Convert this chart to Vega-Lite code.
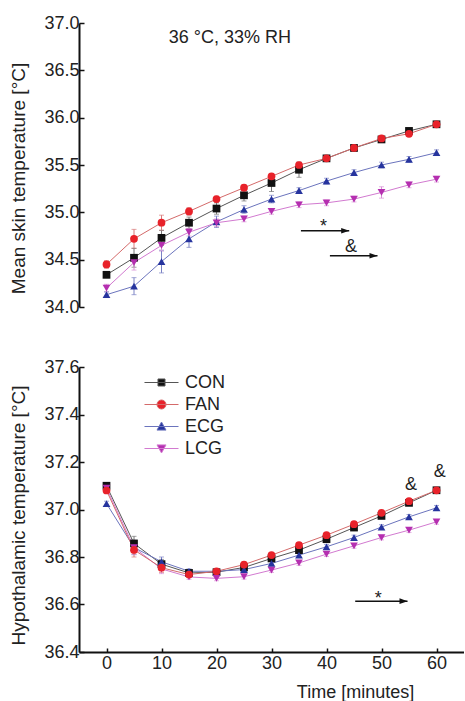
{
  "$schema": "https://vega.github.io/schema/vega-lite/v6.json",
  "padding": {"left": 9, "top": 14, "right": 0, "bottom": 0},
  "background": "white",
  "config": {
    "font": "Liberation Sans",
    "view": {"stroke": null},
    "axis": {
      "domainColor": "#111", "domainWidth": 2, "tickColor": "#111", "tickWidth": 1.5,
      "labelFontSize": 18, "labelColor": "#222", "titleFontSize": 19, "titleFontWeight": "normal",
      "titleColor": "#222", "grid": false, "labelOverlap": false, "labelFlush": false
    }
  },
  "bounds": "flush",
  "spacing": 60,
  "datasets": {
    "skin": [
      {"g":"CON","t":0,"v":34.34,"e":0.03},{"g":"CON","t":5,"v":34.52,"e":0.10},{"g":"CON","t":10,"v":34.73,"e":0.08},{"g":"CON","t":15,"v":34.89,"e":0.06},{"g":"CON","t":20,"v":35.04,"e":0.06},{"g":"CON","t":25,"v":35.18,"e":0.06},{"g":"CON","t":30,"v":35.31,"e":0.09},{"g":"CON","t":35,"v":35.45,"e":0.08},{"g":"CON","t":40,"v":35.57,"e":0.03},{"g":"CON","t":45,"v":35.68,"e":0.02},{"g":"CON","t":50,"v":35.77,"e":0.02},{"g":"CON","t":55,"v":35.86,"e":0.02},{"g":"CON","t":60,"v":35.93,"e":0.02},
      {"g":"ECG","t":0,"v":34.13,"e":0.03},{"g":"ECG","t":5,"v":34.22,"e":0.09},{"g":"ECG","t":10,"v":34.48,"e":0.12},{"g":"ECG","t":15,"v":34.72,"e":0.09},{"g":"ECG","t":20,"v":34.90,"e":0.06},{"g":"ECG","t":25,"v":35.03,"e":0.04},{"g":"ECG","t":30,"v":35.14,"e":0.04},{"g":"ECG","t":35,"v":35.23,"e":0.03},{"g":"ECG","t":40,"v":35.33,"e":0.03},{"g":"ECG","t":45,"v":35.42,"e":0.03},{"g":"ECG","t":50,"v":35.50,"e":0.03},{"g":"ECG","t":55,"v":35.56,"e":0.03},{"g":"ECG","t":60,"v":35.63,"e":0.03},
      {"g":"LCG","t":0,"v":34.20,"e":0.04},{"g":"LCG","t":5,"v":34.47,"e":0.08},{"g":"LCG","t":10,"v":34.65,"e":0.06},{"g":"LCG","t":15,"v":34.79,"e":0.04},{"g":"LCG","t":20,"v":34.89,"e":0.04},{"g":"LCG","t":25,"v":34.93,"e":0.03},{"g":"LCG","t":30,"v":35.01,"e":0.03},{"g":"LCG","t":35,"v":35.08,"e":0.03},{"g":"LCG","t":40,"v":35.10,"e":0.03},{"g":"LCG","t":45,"v":35.14,"e":0.03},{"g":"LCG","t":50,"v":35.21,"e":0.06},{"g":"LCG","t":55,"v":35.29,"e":0.03},{"g":"LCG","t":60,"v":35.35,"e":0.03},
      {"g":"FAN","t":0,"v":34.45,"e":0.04},{"g":"FAN","t":5,"v":34.72,"e":0.10},{"g":"FAN","t":10,"v":34.89,"e":0.08},{"g":"FAN","t":15,"v":35.01,"e":0.04},{"g":"FAN","t":20,"v":35.14,"e":0.03},{"g":"FAN","t":25,"v":35.26,"e":0.03},{"g":"FAN","t":30,"v":35.38,"e":0.03},{"g":"FAN","t":35,"v":35.50,"e":0.03},{"g":"FAN","t":40,"v":35.57,"e":0.02},{"g":"FAN","t":45,"v":35.68,"e":0.02},{"g":"FAN","t":50,"v":35.78,"e":0.02},{"g":"FAN","t":55,"v":35.83,"e":0.02},{"g":"FAN","t":60,"v":35.93,"e":0.02}
    ],
    "hypo": [
      {"g":"CON","t":0,"v":37.10,"e":0.01},{"g":"CON","t":5,"v":36.857,"e":0.03},{"g":"CON","t":10,"v":36.77,"e":0.02},{"g":"CON","t":15,"v":36.733,"e":0.01},{"g":"CON","t":20,"v":36.736,"e":0.01},{"g":"CON","t":25,"v":36.756,"e":0.01},{"g":"CON","t":30,"v":36.794,"e":0.01},{"g":"CON","t":35,"v":36.829,"e":0.01},{"g":"CON","t":40,"v":36.875,"e":0.01},{"g":"CON","t":45,"v":36.924,"e":0.01},{"g":"CON","t":50,"v":36.973,"e":0.01},{"g":"CON","t":55,"v":37.028,"e":0.01},{"g":"CON","t":60,"v":37.081,"e":0.01},
      {"g":"ECG","t":0,"v":37.025,"e":0.01},{"g":"ECG","t":5,"v":36.84,"e":0.03},{"g":"ECG","t":10,"v":36.78,"e":0.02},{"g":"ECG","t":15,"v":36.74,"e":0.01},{"g":"ECG","t":20,"v":36.74,"e":0.01},{"g":"ECG","t":25,"v":36.747,"e":0.01},{"g":"ECG","t":30,"v":36.773,"e":0.01},{"g":"ECG","t":35,"v":36.808,"e":0.01},{"g":"ECG","t":40,"v":36.843,"e":0.01},{"g":"ECG","t":45,"v":36.882,"e":0.01},{"g":"ECG","t":50,"v":36.926,"e":0.01},{"g":"ECG","t":55,"v":36.969,"e":0.01},{"g":"ECG","t":60,"v":37.007,"e":0.01},
      {"g":"LCG","t":0,"v":37.09,"e":0.01},{"g":"LCG","t":5,"v":36.84,"e":0.03},{"g":"LCG","t":10,"v":36.75,"e":0.02},{"g":"LCG","t":15,"v":36.716,"e":0.01},{"g":"LCG","t":20,"v":36.71,"e":0.01},{"g":"LCG","t":25,"v":36.717,"e":0.01},{"g":"LCG","t":30,"v":36.745,"e":0.01},{"g":"LCG","t":35,"v":36.775,"e":0.01},{"g":"LCG","t":40,"v":36.812,"e":0.01},{"g":"LCG","t":45,"v":36.847,"e":0.01},{"g":"LCG","t":50,"v":36.882,"e":0.01},{"g":"LCG","t":55,"v":36.913,"e":0.01},{"g":"LCG","t":60,"v":36.948,"e":0.01},
      {"g":"FAN","t":0,"v":37.08,"e":0.01},{"g":"FAN","t":5,"v":36.83,"e":0.03},{"g":"FAN","t":10,"v":36.755,"e":0.02},{"g":"FAN","t":15,"v":36.726,"e":0.01},{"g":"FAN","t":20,"v":36.74,"e":0.01},{"g":"FAN","t":25,"v":36.768,"e":0.01},{"g":"FAN","t":30,"v":36.808,"e":0.01},{"g":"FAN","t":35,"v":36.85,"e":0.01},{"g":"FAN","t":40,"v":36.892,"e":0.01},{"g":"FAN","t":45,"v":36.938,"e":0.01},{"g":"FAN","t":50,"v":36.986,"e":0.01},{"g":"FAN","t":55,"v":37.035,"e":0.01},{"g":"FAN","t":60,"v":37.081,"e":0.01}
    ],
    "annTop": [
      {"x":22.45,"y":36.788,"label":"36 °C, 33% RH"},
      {"x":39.45,"y":34.794,"label":"*"},
      {"x":44.44,"y":34.58,"label":"&"}
    ],
    "annBot": [
      {"x":49.4,"y":36.601,"label":"*"},
      {"x":55.35,"y":37.081,"label":"&"},
      {"x":60.6,"y":37.137,"label":"&"}
    ],
    "arrTop": [
      {"x":35.35,"x2":44.13,"y":34.806},
      {"x":40.62,"x2":49.27,"y":34.541}
    ],
    "arrBot": [
      {"x":45.22,"x2":54.73,"y":36.614}
    ]
  },
  "vconcat": [
    {
      "width": 385,
      "height": 284,
      "layer": [
        {
          "data": {"name": "skin"},
          "mark": {"type": "line", "strokeWidth": 1},
          "encoding": {
            "x": {"field": "t", "type": "quantitative", "title": null, "scale": {"domain": [-5, 65], "nice": false}, "axis": null},
            "y": {"field": "v", "type": "quantitative", "title": "Mean skin temperature [°C]", "scale": {"domain": [34, 37], "nice": false, "zero": false},
              "axis": {"values": [34,34.25,34.5,34.75,35,35.25,35.5,35.75,36,36.25,36.5,36.75,37],
                "labelExpr": "datum.value % 0.5 === 0 ? format(datum.value, '.1f') : ''",
                "tickSize": {"condition": {"test": "datum.value % 0.5 === 0", "value": -5}, "value": -3},
                "labelPadding": 5, "titleX": -61, "titleY": 155, "titleAlign": "center", "titleBaseline": "middle", "titleAngle": -90}},
            "stroke": {"field": "g", "type": "nominal", "scale": {"domain": ["CON","FAN","LCG","ECG"], "range": ["#555555","#d46a6a","#d27ad0","#6b74bd"]}, "legend": null},
            "detail": {"field": "g"}
          }
        },
        {
          "data": {"name": "skin"},
          "mark": {"type": "errorbar", "ticks": {"size": 5}, "thickness": 1},
          "encoding": {
            "x": {"field": "t", "type": "quantitative", "title": null, "axis": null},
            "y": {"field": "v", "type": "quantitative", "title": "Mean skin temperature [°C]"},
            "yError": {"field": "e"},
            "color": {"field": "g", "type": "nominal", "scale": {"domain": ["FAN","CON","ECG","LCG"], "range": ["#d87a7a","#777777","#7a82c4","#d890d6"]}, "legend": null}
          }
        },
        {
          "data": {"name": "skin"},
          "mark": {"type": "point", "filled": true, "opacity": 1, "size": 60},
          "encoding": {
            "x": {"field": "t", "type": "quantitative", "title": null, "axis": null},
            "y": {"field": "v", "type": "quantitative", "title": "Mean skin temperature [°C]"},
            "fill": {"field": "g", "type": "nominal", "scale": {"domain": ["CON","FAN","ECG","LCG"], "range": ["#111111","#e8222a","#26349e","#b52fb0"]}, "legend": null},
            "shape": {"field": "g", "type": "nominal", "scale": {"domain": ["LCG","ECG","FAN","CON"], "range": ["triangle-down","triangle-up","circle","square"]}, "legend": null}
          }
        },
        {
          "data": {"name": "annTop"},
          "mark": {"type": "text", "fontSize": 18, "align": "center", "baseline": "alphabetic", "color": "#222"},
          "encoding": {
            "x": {"field": "x", "type": "quantitative", "title": null, "axis": null},
            "y": {"field": "y", "type": "quantitative", "title": "Mean skin temperature [°C]"},
            "text": {"field": "label"}
          }
        },
        {
          "data": {"name": "arrTop"},
          "mark": {"type": "rule", "strokeWidth": 1.5, "color": "#111"},
          "encoding": {
            "x": {"field": "x", "type": "quantitative", "title": null, "axis": null},
            "x2": {"field": "x2"},
            "y": {"field": "y", "type": "quantitative", "title": "Mean skin temperature [°C]"}
          }
        },
        {
          "data": {"name": "arrTop"},
          "mark": {"type": "point", "filled": true, "opacity": 1, "color": "#111", "size": 64, "shape": "M-2,-0.7L0,0L-2,0.7Z"},
          "encoding": {
            "x": {"field": "x2", "type": "quantitative", "title": null, "axis": null},
            "y": {"field": "y", "type": "quantitative", "title": "Mean skin temperature [°C]"}
          }
        }
      ]
    },
    {
      "width": 385,
      "height": 285,
      "layer": [
        {
          "data": {"name": "hypo"},
          "mark": {"type": "line", "strokeWidth": 1},
          "encoding": {
            "x": {"field": "t", "type": "quantitative", "title": "Time [minutes]", "scale": {"domain": [-5, 65], "nice": false},
              "axis": {"values": [0,5,10,15,20,25,30,35,40,45,50,55,60],
                "labelExpr": "datum.value % 10 === 0 ? datum.label : ''",
                "tickSize": -4,
                "labelPadding": 6, "labelOverlap": false, "labelFlush": false,
                "titleFontSize": 18, "titleX": 276, "titleY": 31, "titleAlign": "center", "titleBaseline": "top"}},
            "y": {"field": "v", "type": "quantitative", "title": "Hypothalamic temperature [°C]", "scale": {"domain": [36.4, 37.6], "nice": false, "zero": false},
              "axis": {"values": [36.4,36.5,36.6,36.7,36.8,36.9,37,37.1,37.2,37.3,37.4,37.5,37.6],
                "labelExpr": "abs(round(datum.value * 10) % 2) < 0.5 ? format(datum.value, '.1f') : ''",
                "tickSize": {"condition": {"test": "abs(round(datum.value * 10) % 2) < 0.5", "value": -5}, "value": -3},
                "labelPadding": 5, "titleX": -61, "titleY": 148, "titleAlign": "center", "titleBaseline": "middle", "titleAngle": -90}},
            "stroke": {"field": "g", "type": "nominal", "scale": {"domain": ["CON","FAN","LCG","ECG"], "range": ["#555555","#d46a6a","#d27ad0","#6b74bd"]}, "legend": null},
            "detail": {"field": "g"}
          }
        },
        {
          "data": {"name": "hypo"},
          "mark": {"type": "errorbar", "ticks": {"size": 5}, "thickness": 1},
          "encoding": {
            "x": {"field": "t", "type": "quantitative", "title": "Time [minutes]"},
            "y": {"field": "v", "type": "quantitative", "title": "Hypothalamic temperature [°C]"},
            "yError": {"field": "e"},
            "color": {"field": "g", "type": "nominal", "scale": {"domain": ["FAN","CON","ECG","LCG"], "range": ["#d87a7a","#777777","#7a82c4","#d890d6"]}, "legend": null}
          }
        },
        {
          "data": {"name": "hypo"},
          "mark": {"type": "point", "filled": true, "opacity": 1, "size": 60},
          "encoding": {
            "x": {"field": "t", "type": "quantitative", "title": "Time [minutes]"},
            "y": {"field": "v", "type": "quantitative", "title": "Hypothalamic temperature [°C]"},
            "fill": {"field": "g", "type": "nominal", "scale": {"domain": ["CON","FAN","ECG","LCG"], "range": ["#111111","#e8222a","#26349e","#b52fb0"]},
              "legend": {"orient": "none", "legendX": 73, "legendY": 6, "title": null, "padding": 0, "symbolSize": 324,
                "labelFontSize": 18, "labelColor": "#222", "labelOffset": 14, "rowPadding": 3, "symbolStrokeWidth": 1,
                "symbolType": {"expr": "datum.value === 'CON' ? 'M-1.89,0H1.89M-0.39,-0.39H0.39V0.39H-0.39Z' : datum.value === 'FAN' ? 'M-1.89,0H1.89M0.5,0A0.5,0.5,0,1,1,-0.5,0A0.5,0.5,0,1,1,0.5,0Z' : datum.value === 'ECG' ? 'M-1.89,0H1.89M0,-0.5L0.5,0.4H-0.5Z' : 'M-1.89,0H1.89M0,0.5L0.5,-0.4H-0.5Z'"},
                "symbolStrokeColor": {"expr": "datum.value === 'CON' ? '#555555' : datum.value === 'FAN' ? '#d46a6a' : datum.value === 'ECG' ? '#6b74bd' : '#d27ad0'"},
                "symbolOpacity": 1}},
            "shape": {"field": "g", "type": "nominal", "scale": {"domain": ["LCG","ECG","FAN","CON"], "range": ["triangle-down","triangle-up","circle","square"]}, "legend": null}
          }
        },
        {
          "data": {"name": "annBot"},
          "mark": {"type": "text", "fontSize": 18, "align": "center", "baseline": "alphabetic", "color": "#222"},
          "encoding": {
            "x": {"field": "x", "type": "quantitative", "title": "Time [minutes]"},
            "y": {"field": "y", "type": "quantitative", "title": "Hypothalamic temperature [°C]"},
            "text": {"field": "label"}
          }
        },
        {
          "data": {"name": "arrBot"},
          "mark": {"type": "rule", "strokeWidth": 1.5, "color": "#111"},
          "encoding": {
            "x": {"field": "x", "type": "quantitative", "title": "Time [minutes]"},
            "x2": {"field": "x2"},
            "y": {"field": "y", "type": "quantitative", "title": "Hypothalamic temperature [°C]"}
          }
        },
        {
          "data": {"name": "arrBot"},
          "mark": {"type": "point", "filled": true, "opacity": 1, "color": "#111", "size": 64, "shape": "M-2,-0.7L0,0L-2,0.7Z"},
          "encoding": {
            "x": {"field": "x2", "type": "quantitative", "title": "Time [minutes]"},
            "y": {"field": "y", "type": "quantitative", "title": "Hypothalamic temperature [°C]"}
          }
        }
      ]
    }
  ],
  "resolve": {"scale": {"fill": "independent", "stroke": "independent", "color": "independent", "shape": "independent"}}
}
